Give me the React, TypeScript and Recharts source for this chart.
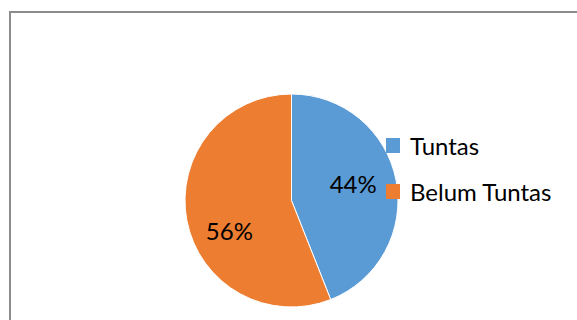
import React from 'react';
import { PieChart, Pie, Cell, Legend } from 'recharts';

const categories = ['Tuntas', 'Belum Tuntas'];
const values = [44, 56];
const colors = ['#5B9BD5', '#ED7D31'];

const data = categories.map((name, i) => ({ name, value: values[i] }));

const FONT = 'Lato, "Open Sans", sans-serif';
const LABEL_ADJ = [4.2, 15.3];
const LABEL_R = [0.6, 0.65];

const renderLabel = (props: any) => {
  const { cx, cy, midAngle, outerRadius, percent, index } = props;
  const RAD = Math.PI / 180;
  const a = (midAngle + LABEL_ADJ[index]) * RAD;
  const r = outerRadius * LABEL_R[index];
  const x = cx + r * Math.cos(a);
  const y = cy - r * Math.sin(a);
  return (
    <text x={x} y={y} fill="#000" fontSize={24} fontFamily={FONT} textAnchor="middle" dominantBaseline="central">
      {Math.round(percent * 100)}%
    </text>
  );
};

const renderLegend = () => {
  return (
    <div style={{ fontFamily: FONT }}>
      {categories.map((name, i) => (
        <div key={name} style={{ display: 'flex', alignItems: 'center', height: 46 }}>
          <div style={{ width: 14, height: 15, background: colors[i], marginRight: 10, flexShrink: 0 }} />
          <span style={{ fontSize: 24, color: '#000', whiteSpace: 'nowrap' }}>{name}</span>
        </div>
      ))}
    </div>
  );
};

export default function App() {
  return (
    <div style={{ position: 'absolute', left: 0, top: 0, width: 577, height: 320, overflow: 'hidden', background: '#fff' }}>
      <div style={{ position: 'absolute', left: 9, top: 11, width: 640, height: 400, border: '2px solid #8c8c8c', boxSizing: 'border-box' }} />
      <div style={{ position: 'absolute', left: 0, top: 0 }}>
        <PieChart width={577} height={320} margin={{ top: 0, right: 0, bottom: 0, left: 0 }}>
          <Pie
            data={data}
            dataKey="value"
            nameKey="name"
            cx={291.5}
            cy={200.5}
            outerRadius={106.5}
            startAngle={90}
            endAngle={-270}
            stroke="#fff"
            strokeWidth={1}
            label={renderLabel}
            labelLine={false}
            isAnimationActive={false}
          >
            {data.map((d, i) => (
              <Cell key={d.name} fill={colors[i]} />
            ))}
          </Pie>
          <Legend
            layout="vertical"
            content={renderLegend}
            wrapperStyle={{ position: 'absolute', left: 386, top: 122, width: 190 }}
          />
        </PieChart>
      </div>
    </div>
  );
}
